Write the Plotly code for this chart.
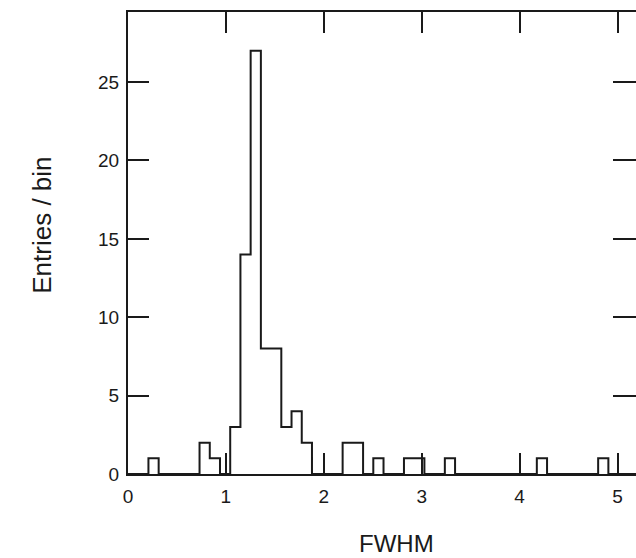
import numpy as np
import plotly.graph_objects as go

# Histogram of FWHM values: 50 equal bins starting at 0
bin_start = 0.0
bin_width = 0.1044
counts = [0, 0, 1, 0, 0, 0, 0, 2, 1, 0,
          3, 14, 27, 8, 8, 3, 4, 2, 0, 0,
          0, 2, 2, 0, 1, 0, 0, 1, 1, 0,
          0, 1, 0, 0, 0, 0, 0, 0, 0, 0,
          1, 0, 0, 0, 0, 0, 1, 0, 0, 0]

x_ticks = [0, 1, 2, 3, 4, 5]
y_ticks = [0, 5, 10, 15, 20, 25]

edges = bin_start + bin_width * np.arange(len(counts) + 1)
step_y = list(counts) + [counts[-1]]

INK = "#1a1a1a"
FONT = "Liberation Sans, Arial, Helvetica, sans-serif"

fig = go.Figure()
fig.add_trace(go.Scatter(
    x=edges, y=step_y, mode="lines", line_shape="hv",
    line=dict(color=INK, width=2), hoverinfo="skip", showlegend=False,
))
# invisible trace so the right-hand tick axis is drawn
fig.add_trace(go.Scatter(x=[0], y=[0], yaxis="y2", mode="markers",
                         marker=dict(opacity=0), hoverinfo="skip",
                         showlegend=False))

fig.update_layout(
    width=636, height=558,
    margin=dict(l=128, r=0, t=12, b=84),
    paper_bgcolor="white", plot_bgcolor="white",
    font=dict(family=FONT, color=INK),
    xaxis=dict(
        range=[0, 5.189], tickvals=x_ticks, ticktext=[str(v) for v in x_ticks],
        ticks="inside", ticklen=21, tickwidth=2, tickcolor=INK,
        showline=True, linecolor=INK, linewidth=2, mirror="ticks",
        showgrid=False, zeroline=False,
        tickfont=dict(size=19, color=INK), ticklabelstandoff=4,
    ),
    yaxis=dict(
        range=[0, 29.47], tickvals=y_ticks, ticktext=[str(v) for v in y_ticks],
        ticks="inside", ticklen=21, tickwidth=2, tickcolor=INK,
        showline=True, linecolor=INK, linewidth=2,
        showgrid=False, zeroline=False,
        tickfont=dict(size=19, color=INK), ticklabelstandoff=3,
    ),
    yaxis2=dict(
        range=[0, 29.47], tickvals=y_ticks, overlaying="y", side="right",
        ticks="inside", ticklen=23, tickwidth=2, tickcolor=INK,
        showline=False, showgrid=False, zeroline=False, showticklabels=False,
    ),
    annotations=[
        dict(text="FWHM", xref="paper", yref="paper", x=0.5295, y=-0.1495,
             xanchor="center", yanchor="middle", showarrow=False,
             font=dict(size=24, color=INK, family=FONT)),
        dict(text="Entries / bin", xref="paper", yref="paper", x=-0.1693,
             y=0.5395, xanchor="center", yanchor="middle", showarrow=False,
             textangle=-90, font=dict(size=26, color=INK, family=FONT)),
    ],
)

fig.write_html("out.html")
